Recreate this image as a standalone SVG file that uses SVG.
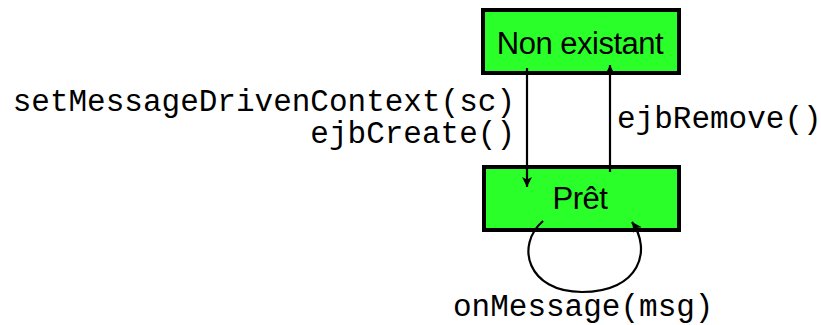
<svg xmlns="http://www.w3.org/2000/svg" width="821" height="325" viewBox="0 0 821 325">
<style>
.box{fill:#2aff2a;stroke:#000;stroke-width:4}
.lbl{font-family:"Liberation Sans",Arial,sans-serif;font-size:31px;fill:#000;text-anchor:middle;letter-spacing:-0.5px}
.mono{font-family:"Liberation Mono","Courier New",monospace;font-size:31px;fill:#000}
.edge{fill:none;stroke:#000;stroke-width:2.2}
</style>
<defs>
<marker id="ah" viewBox="0 0 10 12" refX="10" refY="6" markerWidth="10" markerHeight="12" markerUnits="userSpaceOnUse" orient="auto">
<path d="M0,1 L10,6 L0,11 L2.5,6 Z" fill="#000"/>
</marker>
</defs>
<g id="non-existant">
<rect class="box" x="483" y="10" width="196" height="63"/>
<text class="lbl" x="580" y="54">Non existant</text>
</g>
<g id="pret">
<rect class="box" x="484" y="167" width="195" height="63"/>
<text class="lbl" x="580" y="209">Prêt</text>
</g>
<g id="connectors">
<path class="edge" d="M527,68 L527,187" marker-end="url(#ah)"/>
<path class="edge" d="M610,172 L610,65" marker-end="url(#ah)"/>
<path class="edge" d="M543,221 C515,245 527,292 582,292 C640,292 652,250 632,222" marker-end="url(#ah)"/>
</g>
<g id="labels">
<text class="mono" x="515" y="111" text-anchor="end">setMessageDrivenContext(sc)</text>
<text class="mono" x="515" y="143" text-anchor="end">ejbCreate()</text>
<text class="mono" x="617" y="128">ejbRemove()</text>
<text class="mono" x="453" y="316">onMessage(msg)</text>
</g>
</svg>
